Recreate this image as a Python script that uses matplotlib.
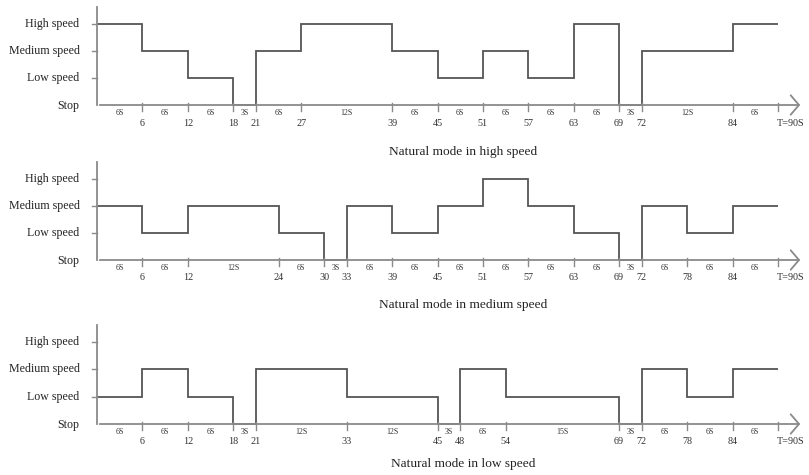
import matplotlib.pyplot as plt

# speed levels: 0 = Stop, 1 = Low, 2 = Medium, 3 = High
level_names = ['Stop', 'Low speed', 'Medium speed', 'High speed']

high_edges = [0, 6, 12, 18, 21, 27, 39, 45, 51, 57, 63, 69, 72, 84, 90]
high_levels = [3, 2, 1, 0, 2, 3, 2, 1, 2, 1, 3, 0, 2, 3]

medium_edges = [0, 6, 12, 24, 30, 33, 39, 45, 51, 57, 63, 69, 72, 78, 84, 90]
medium_levels = [2, 1, 2, 1, 0, 2, 1, 2, 3, 2, 1, 0, 2, 1, 2]

low_edges = [0, 6, 12, 18, 21, 33, 45, 48, 54, 69, 72, 78, 84, 90]
low_levels = [1, 2, 1, 0, 2, 1, 0, 2, 1, 0, 2, 1, 2]

titles = ['Natural mode in high speed',
          'Natural mode in medium speed',
          'Natural mode in low speed']

plt.rcParams['font.family'] = ['Liberation Serif', 'DejaVu Serif']

W, H = 809, 475
fig = plt.figure(figsize=(W / 100, H / 100), dpi=100)

# pixel layout of each panel: (y of Stop axis, y of High level, title offset)
x0_px, x90_px = 97, 778
panels_px = [(105, 24, 47), (260, 179, 45), (424, 342, 40)]

line_col = '#555555'
axis_col = '#8a8a8a'


def draw_panel(ax, edges, levels, title, ppl, title_off):
    ax.set_xlim(0, 90)
    ax.set_ylim(0, 3)
    ax.axis('off')

    px = 1.0 / ppl  # one pixel in level units
    sx = 90 / (x90_px - x0_px)  # one pixel in time units

    # axes
    ax.plot([0, 0], [0, 3.62], color=axis_col, lw=1.3, clip_on=False)
    ax.annotate('', xy=(93.3, 0), xytext=(0, 0),
                arrowprops=dict(arrowstyle='->,head_length=0.3,head_width=0.35',
                                color=axis_col, lw=1.3, mutation_scale=20),
                annotation_clip=False)
    for lv in (1, 2, 3):
        ax.plot([-5 * sx, 0], [lv, lv], color=axis_col, lw=1.0, clip_on=False)

    for lv, name in enumerate(level_names):
        ax.text(-2.3, lv - (1 * px if lv == 0 else 0), name, ha='right', va='center',
                fontsize=8.6, color='#222222')

    # step line
    ax.stairs(levels, edges, baseline=None, color=line_col, lw=1.3, clip_on=False)

    # ticks at change points
    for t in edges[1:]:
        ax.plot([t, t], [2 * px, -6 * px], color=axis_col, lw=1.0, clip_on=False)

    # tick numbers and interval lengths
    for t in edges[1:-1]:
        ax.text(t, -18 * px, str(t), ha='center', va='center',
                fontsize=7.3, color='#333333')
    ax.text(edges[-1] - 0.2, -18 * px, 'T=%dS' % edges[-1], ha='left',
            va='center', fontsize=7.3, color='#333333')
    for a, b in zip(edges[:-1], edges[1:]):
        ax.text((a + b) / 2, -8 * px, '%dS' % (b - a), ha='center',
                va='center', fontsize=5.7, color='#333333')

    ax.text(48.4, -title_off * px, title, ha='center', va='center',
            fontsize=9.6, color='#222222')


data = [(high_edges, high_levels), (medium_edges, medium_levels),
        (low_edges, low_levels)]

for (stop_y, high_y, toff), (edges, levels), title in zip(panels_px, data, titles):
    left = x0_px / W
    width = (x90_px - x0_px) / W
    bottom = (H - stop_y) / H
    height = (stop_y - high_y) / H
    ax = fig.add_axes([left, bottom, width, height])
    draw_panel(ax, edges, levels, title, (stop_y - high_y) / 3, toff)

fig.savefig('out.png', dpi=100)
